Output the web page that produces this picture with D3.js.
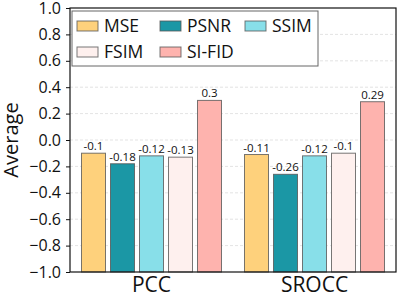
<!DOCTYPE html>
<html>
<head>
<meta charset="utf-8">
<script src="https://cdn.jsdelivr.net/npm/d3@7"></script>
<style>
  body { margin: 0; background: #fff; }
  svg text { font-family: "Open Sans", Lato, sans-serif; }
</style>
</head>
<body>
<div id="chart"></div>
<script>
// data
var groups = ["PCC", "SROCC"];
var metrics = ["MSE", "PSNR", "SSIM", "FSIM", "SI-FID"];
var pccValues = [-0.1, -0.18, -0.12, -0.13, 0.3];
var sroccValues = [-0.11, -0.26, -0.12, -0.1, 0.29];
var yTicks = [-1.0, -0.8, -0.6, -0.4, -0.2, 0.0, 0.2, 0.4, 0.6, 0.8, 1.0];
var colors = ["#fed17c", "#1b97a5", "#88dfe9", "#fef0ee", "#feb3ae"];

var valuesByGroup = { "PCC": pccValues, "SROCC": sroccValues };

var margin = { top: 8, right: 3, bottom: 25, left: 70 },
    width = 399 - margin.left - margin.right,
    height = 297 - margin.top - margin.bottom;

var svg = d3.select("#chart")
    .append("svg")
    .attr("width", 399)
    .attr("height", 297)
    .append("g")
    .attr("transform", "translate(" + margin.left + "," + margin.top + ")");

var x = d3.scaleBand().domain(groups).range([0, width]).padding(0);
var step = 29, barW = 24;
var y = d3.scaleLinear().domain([-1, 1]).range([height, 0]);
var color = d3.scaleOrdinal().domain(metrics).range(colors);

// grid
svg.append("g")
    .selectAll("line")
    .data(yTicks.slice(1, -1))
    .enter()
    .append("line")
    .attr("x1", 0).attr("x2", width)
    .attr("y1", function (d) { return y(d); })
    .attr("y2", function (d) { return y(d); })
    .attr("stroke", "#dcdcdc")
    .attr("stroke-width", 0.8)
    .attr("stroke-dasharray", "3,2");

// bars
var rows = [];
groups.forEach(function (g) {
    metrics.forEach(function (m, i) {
        rows.push({ group: g, metric: m, i: i, value: valuesByGroup[g][i] });
    });
});

function barX(d) {
    return x(d.group) + x.bandwidth() / 2 + (d.i - 2) * step - barW / 2;
}

svg.selectAll("rect.bar")
    .data(rows)
    .enter()
    .append("rect")
    .attr("class", "bar")
    .attr("x", barX)
    .attr("width", barW)
    .attr("y", function (d) { return y(d.value); })
    .attr("height", function (d) { return y(-1) - y(d.value); })
    .attr("fill", function (d) { return color(d.metric); })
    .attr("stroke", "#555")
    .attr("stroke-opacity", 0.8)
    .attr("stroke-width", 1);

svg.selectAll("text.val")
    .data(rows)
    .enter()
    .append("text")
    .attr("class", "val")
    .attr("x", function (d) { return barX(d) + barW / 2; })
    .attr("y", function (d) { return y(d.value) - 3; })
    .attr("text-anchor", "middle")
    .style("font-size", "11.5px")
    .attr("fill", "#111")
    .text(function (d) { return String(d.value); });

// axes
var yAxis = svg.append("g")
    .call(d3.axisLeft(y).tickValues(yTicks).tickSize(4).tickPadding(5)
        .tickFormat(function (d) { return d3.format(".1f")(d).replace("-", "\u2212"); }));
yAxis.selectAll("text").style("font-size", "16px").attr("fill", "#111");
yAxis.select(".domain").remove();
yAxis.selectAll("line").attr("stroke", "#111");

var xAxis = svg.append("g")
    .attr("transform", "translate(0," + height + ")")
    .call(d3.axisBottom(x).tickSize(0).tickPadding(5));
xAxis.selectAll("text").style("font-size", "21px").attr("fill", "#111");
xAxis.select(".domain").remove();

// frame
svg.append("rect")
    .attr("x", 0).attr("y", 0)
    .attr("width", width).attr("height", height)
    .attr("fill", "none")
    .attr("stroke", "#111")
    .attr("stroke-width", 1.2);

// y label
svg.append("text")
    .attr("transform", "translate(" + (-52) + "," + (height / 2) + ") rotate(-90)")
    .attr("text-anchor", "middle")
    .style("font-size", "20px")
    .attr("fill", "#111")
    .text("Average");

// legend
var legend = svg.append("g").attr("transform", "translate(2,3)");
legend.append("rect")
    .attr("width", 246).attr("height", 55)
    .attr("fill", "#fff")
    .attr("stroke", "#666")
    .attr("stroke-width", 1);
var colX = [5, 88, 173];
legend.selectAll("g.item")
    .data(metrics)
    .enter()
    .append("g")
    .attr("class", "item")
    .attr("transform", function (d, i) {
        return "translate(" + colX[i % 3] + "," + (i < 3 ? 15 : 41) + ")";
    })
    .each(function (d) {
        var g = d3.select(this);
        g.append("rect")
            .attr("x", 0).attr("y", -5)
            .attr("width", 21).attr("height", 10)
            .attr("fill", color(d))
            .attr("stroke", "#555")
            .attr("stroke-opacity", 0.8);
        g.append("text")
            .attr("x", 27)
            .attr("dy", "0.35em")
            .style("font-size", "17.5px")
            .attr("fill", "#111")
            .text(d);
    });
</script>
</body>
</html>
